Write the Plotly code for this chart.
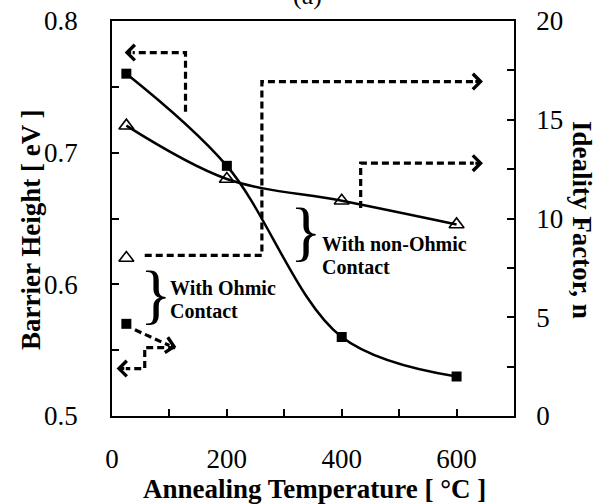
import plotly.graph_objects as go

# ---- data ----
temps = [25, 200, 400, 600]
barrier_height = [0.76, 0.69, 0.56, 0.53]        # filled squares, left axis [eV]
ideality_factor = [14.7, 12.0, 10.9, 9.7]        # open triangles, right axis (n)

legend_square_y = 0.57
legend_triangle_y = 0.62
legend_x = 25

x_ticks = [0, 100, 200, 300, 400, 500, 600, 700]
x_ticktext = ["0", "", "200", "", "400", "", "600", ""]
y1_ticks = [0.5, 0.55, 0.6, 0.65, 0.7, 0.75, 0.8]
y1_ticktext = ["0.5", "", "0.6", "", "0.7", "", "0.8"]
y2_ticks = [0, 2.5, 5, 7.5, 10, 12.5, 15, 17.5, 20]
y2_ticktext = ["0", "", "5", "", "10", "", "15", "", "20"]

# dashed guide paths (x in °C, y in left-axis eV units)
guide_top_left_x = [128, 128, 36]
guide_top_left_y = [0.731, 0.776, 0.776]
guide_top_right_x = [57, 261, 261, 630]
guide_top_right_y = [0.622, 0.622, 0.754, 0.754]
guide_mid_right_x = [433, 433, 630]
guide_mid_right_y = [0.658, 0.692, 0.692]
guide_diag_x = [40, 100]
guide_diag_y = [0.5655, 0.5535]
guide_step_x = [110, 57, 57, 24]
guide_step_y = [0.552, 0.552, 0.536, 0.536]

FONT = "Liberation Serif, Times New Roman, serif"
BLK = "black"

L, R, T, B = 112, 83, 21, 88
W, H = 597, 504
PW, PH = W - L - R, H - T - B
def px_x(p):
    return (p - L) / PW
def px_y(p):
    return (H - B - p) / PH

fig = go.Figure()

fig.add_trace(go.Scatter(
    x=temps, y=barrier_height, mode="lines+markers",
    line=dict(color=BLK, width=2.5, shape="spline", smoothing=1.0),
    marker=dict(symbol="square", size=10, color=BLK),
    showlegend=False, yaxis="y"))

fig.add_trace(go.Scatter(
    x=temps, y=ideality_factor, mode="lines+markers",
    line=dict(color=BLK, width=2.5, shape="spline", smoothing=1.0),
    marker=dict(symbol="triangle-up-open", size=13, color=BLK, line=dict(width=1.6, color=BLK)),
    showlegend=False, yaxis="y2"))

# legend markers
fig.add_trace(go.Scatter(x=[legend_x], y=[legend_square_y], mode="markers",
                         marker=dict(symbol="square", size=10, color=BLK), showlegend=False))
fig.add_trace(go.Scatter(x=[legend_x], y=[legend_triangle_y], mode="markers",
                         marker=dict(symbol="triangle-up-open", size=13, color=BLK,
                                     line=dict(width=1.6, color=BLK)), showlegend=False))

dash_line = dict(color=BLK, width=3.2, dash="7px,4px")
for gx, gy in [(guide_top_left_x, guide_top_left_y), (guide_top_right_x, guide_top_right_y),
               (guide_mid_right_x, guide_mid_right_y), (guide_diag_x, guide_diag_y),
               (guide_step_x, guide_step_y)]:
    fig.add_trace(go.Scatter(x=gx, y=gy, mode="lines", line=dash_line,
                             showlegend=False, hoverinfo="skip"))

annotations = []

def arrow(x_tip, y_tip, x_tail, y_tail):
    annotations.append(dict(x=x_tip, y=y_tip, ax=x_tail, ay=y_tail, xref="x", yref="y",
                            axref="x", ayref="y", text="", showarrow=True,
                            arrowhead=4, arrowsize=1.0, arrowwidth=3, arrowcolor=BLK))

arrow(22, 0.776, 36, 0.776)
arrow(646, 0.754, 630, 0.754)
arrow(646, 0.692, 630, 0.692)
arrow(112, 0.5525, 100, 0.5535)
arrow(8, 0.536, 24, 0.536)

def label(x, y, t, size=20, xanchor="left"):
    annotations.append(dict(x=x, y=y, xref="x", yref="y", text=t, showarrow=False,
                            xanchor=xanchor, yanchor="middle",
                            font=dict(family=FONT, size=size, color=BLK)))

label(97, 0.597, "<b>With Ohmic</b>")
label(97, 0.580, "<b>Contact</b>")
label(362, 0.631, "<b>With non-Ohmic</b>")
label(362, 0.613, "<b>Contact</b>")
label(76, 0.593, "}", size=66, xanchor="center")
label(337, 0.641, "}", size=66, xanchor="center")

# axis titles
TITLE = 27
annotations.append(dict(xref="paper", yref="paper", x=px_x(31), y=px_y(230),
                        text="<b>Barrier Height [ eV ]</b>",
                        textangle=-90, showarrow=False, xanchor="center", yanchor="middle",
                        font=dict(family=FONT, size=TITLE, color=BLK)))
annotations.append(dict(xref="paper", yref="paper", x=px_x(582), y=px_y(220),
                        text="<b>Ideality Factor, n</b>",
                        textangle=90, showarrow=False, xanchor="center", yanchor="middle",
                        font=dict(family=FONT, size=TITLE, color=BLK)))
annotations.append(dict(xref="paper", yref="paper", x=px_x(314), y=px_y(489),
                        text="<b>Annealing Temperature [ °C ]</b>",
                        showarrow=False, xanchor="center", yanchor="middle",
                        font=dict(family=FONT, size=TITLE, color=BLK)))
annotations.append(dict(xref="paper", yref="paper", x=px_x(307), y=px_y(12), text="(a)",
                        showarrow=False, xanchor="center", yanchor="bottom",
                        font=dict(family=FONT, size=26, color=BLK)))

tickfont = dict(family=FONT, size=27, color=BLK)
common = dict(ticks="inside", ticklen=7, tickwidth=1.5, tickcolor=BLK, showline=True,
              linecolor=BLK, linewidth=1.5, showgrid=False, zeroline=False,
              tickfont=tickfont, automargin=False)
fig.update_layout(
    width=W, height=H,
    margin=dict(l=L, r=R, t=T, b=B, autoexpand=False),
    paper_bgcolor="white", plot_bgcolor="white",
    showlegend=False,
    xaxis=dict(range=[0, 700], tickvals=x_ticks, ticktext=x_ticktext, mirror=True,
               ticklabelstandoff=18, **common),
    yaxis=dict(range=[0.5, 0.8], tickvals=y1_ticks, ticktext=y1_ticktext,
               ticklabelstandoff=27, **common),
    yaxis2=dict(range=[0, 20], tickvals=y2_ticks, ticktext=y2_ticktext,
                overlaying="y", side="right", ticklabelstandoff=15, **common),
    annotations=annotations,
)

fig.write_html("out.html", config={"displayModeBar": False},
               post_script="document.body.style.margin='0';document.body.style.overflow='hidden';")
